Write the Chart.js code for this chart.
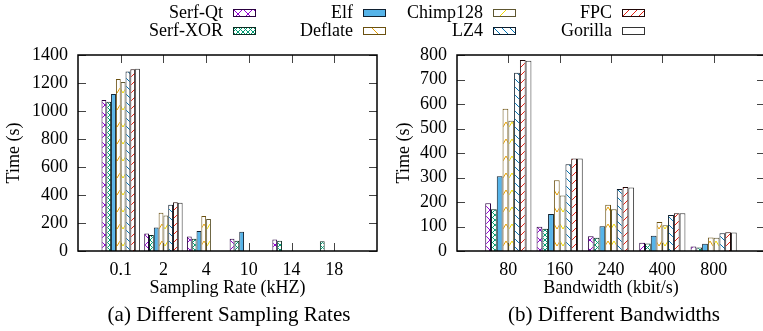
<!DOCTYPE html>
<html>
<head>
<meta charset="utf-8">
<script src="https://cdn.jsdelivr.net/npm/chart.js@4.4.0/dist/chart.umd.min.js"></script>
<style>
  html, body { margin: 0; padding: 0; width: 763px; height: 331px; overflow: hidden; background: #fff; }
  body { position: relative; font-family: "Liberation Serif", "Times New Roman", serif; }
  canvas { position: absolute; top: 0; }
  .cap { position: absolute; top: 302px; font-size: 21px; line-height: 24px; white-space: nowrap; transform: translateX(-50%); color: #000; }
</style>
</head>
<body>
<canvas id="rateChart" width="385" height="331" style="left:0"></canvas>
<canvas id="bandChart" width="393" height="331" style="left:380px"></canvas>
<canvas id="legend" width="763" height="46" style="left:0"></canvas>
<div class="cap" style="left:229px">(a) Different Sampling Rates</div>
<div class="cap" style="left:614px">(b) Different Bandwidths</div>

<script>
const seriesNames = ['Serf-Qt', 'Serf-XOR', 'Elf', 'Deflate', 'Chimp128', 'LZ4', 'FPC', 'Gorilla'];

// (a) sampling rate (kHZ)
const rateLabels = ['0.1', '2', '4', '10', '14', '18'];
const serfQtRate = [1078, 125, 103, 88, 83, null];
const serfXorRate = [1066, 115, 88, 73, 73, 70];
const elfRate = [1122, 167, 143, 138, null, null];
const deflateRate = [1228, 274, 250, null, null, null];
const chimpRate = [1207, 253, 229, null, null, null];
const lz4Rate = [1282, 331, null, null, null, null];
const fpcRate = [1298, 348, null, null, null, null];
const gorillaRate = [1302, 345, null, null, null, null];

// (b) bandwidth (kbit/s)
const bandLabels = ['80', '160', '240', '400', '800'];
const serfQtBand = [195, 99, 60, 34, 18];
const serfXorBand = [170, 91, 54, 31, 14];
const elfBand = [305, 151, 101, 62, 30];
const deflateBand = [581, 289, 189, 118, 55];
const chimpBand = [532, 227, 170, 105, 54];
const lz4Band = [728, 354, 253, 147, 72];
const fpcBand = [780, 378, 261, 154, 77];
const gorillaBand = [777, 378, 259, 154, 76];

const FONT = '"Liberation Serif", "Times New Roman", serif';

// fill style of each series: kind of hatch, line colour, outline colour
const hatchKinds = ['cross', 'dense', 'solid', 'chevron', 'chevron', 'back', 'fwd', 'none'];
const hatchColors = ['#9400D3', '#009E73', '#56B4E9', '#E69F00', '#F0D800', '#0072B2', '#E51E10', '#fff'];
const edgeColors = ['#2a0040', '#0c2a20', '#102030', '#6a5010', '#5e5630', '#0c1c2c', '#200808', '#333'];
const legendKinds = ['cross', 'dense', 'solid', 'back1', 'fwd1', 'back', 'fwd', 'none'];

function makeFill(kind, color) {
  if (kind === 'solid') return color;
  if (kind === 'none') return '#fff';
  const c = document.createElement('canvas');
  let w = 8, h = 8;
  if (kind === 'cross') { w = 10; h = 10; }
  if (kind === 'dense') { w = 5; h = 5; }
  if (kind === 'chevron') { w = 6; h = 17; }
  if (kind === 'back1' || kind === 'fwd1') { w = 22; h = 7; }
  c.width = w; c.height = h;
  const g = c.getContext('2d');
  g.fillStyle = '#fff';
  g.fillRect(0, 0, w, h);
  g.strokeStyle = color;
  g.lineWidth = 1;
  g.beginPath();
  if (kind === 'cross' || kind === 'dense') {
    g.moveTo(0, 0); g.lineTo(w, h);
    g.moveTo(w, 0); g.lineTo(0, h);
  } else if (kind === 'chevron') {
    g.moveTo(0, 3); g.lineTo(w / 2, 8); g.lineTo(w, 3);
  } else if (kind === 'back') {
    g.moveTo(0, 0); g.lineTo(w, h);
    g.moveTo(-w, 0); g.lineTo(w, 2 * h);
    g.moveTo(0, -h); g.lineTo(2 * w, h);
  } else if (kind === 'fwd') {
    g.moveTo(0, h); g.lineTo(w, 0);
    g.moveTo(-w, h); g.lineTo(w, -h);
    g.moveTo(0, 2 * h); g.lineTo(2 * w, 0);
  } else if (kind === 'back1') {
    g.moveTo(8, 0); g.lineTo(15, h);
  } else if (kind === 'fwd1') {
    g.moveTo(7, h); g.lineTo(14, 0);
  }
  g.stroke();
  return g.createPattern(c, 'repeat');
}

function buildDatasets(seriesValues) {
  return seriesValues.map((vals, i) => ({
    label: seriesNames[i],
    data: [null, ...vals, null],
    backgroundColor: makeFill(hatchKinds[i], hatchColors[i]),
    borderColor: edgeColors[i],
    borderWidth: 1,
    borderSkipped: 'bottom',
    categoryPercentage: 0.9,
    barPercentage: 1.0
  }));
}

// inward gnuplot-style ticks behind the bars, frame on top
const frame = {
  id: 'frame',
  beforeDatasetsDraw(chart) {
    const { ctx, chartArea: a, scales: { x, y } } = chart;
    ctx.save();
    ctx.strokeStyle = '#444';
    ctx.lineWidth = 1;
    ctx.beginPath();
    y.ticks.forEach((t, i) => {
      const py = Math.round(y.getPixelForTick(i)) + 0.5;
      ctx.moveTo(a.left, py); ctx.lineTo(a.left + 8, py);
      ctx.moveTo(a.right - 8, py); ctx.lineTo(a.right, py);
    });
    x.ticks.forEach((t, i) => {
      if (!t.label) return;
      const px = Math.round(x.getPixelForTick(i)) + 0.5;
      ctx.moveTo(px, a.top); ctx.lineTo(px, a.top + 8);
      ctx.moveTo(px, a.bottom); ctx.lineTo(px, a.bottom - 8);
    });
    ctx.stroke();
    ctx.restore();
  },
  afterDraw(chart) {
    const { ctx, chartArea: a } = chart;
    ctx.save();
    ctx.strokeStyle = '#000';
    ctx.lineWidth = 1.5;
    ctx.strokeRect(a.left, a.top, a.right - a.left, a.bottom - a.top);
    ctx.restore();
  }
};

function makeChart(id, labels, seriesValues, yMax, yStep, xTitle, yWidth, yTitlePad) {
  const font = { family: FONT, size: 18 };
  return new Chart(document.getElementById(id), {
    type: 'bar',
    data: { labels: ['', ...labels, ''], datasets: buildDatasets(seriesValues) },
    options: {
      responsive: false,
      animation: false,
      layout: { padding: { top: 55, right: 5, left: 0, bottom: 0 } },
      plugins: { legend: { display: false }, tooltip: { enabled: false } },
      scales: {
        x: {
          offset: false,
          grid: { display: false, drawTicks: false },
          border: { display: false },
          ticks: { autoSkip: false, maxRotation: 0, padding: 8, color: '#000', font },
          title: { display: true, text: xTitle, color: '#000', font, padding: { top: 0, bottom: 32 } },
          afterFit(s) { s.height = 80; }
        },
        y: {
          min: 0,
          max: yMax,
          grid: { display: false, drawTicks: false },
          border: { display: false },
          ticks: { stepSize: yStep, autoSkip: false, padding: 10, color: '#000', font, callback: (v) => String(v) },
          title: { display: true, text: 'Time (s)', color: '#000', font, padding: { top: yTitlePad, bottom: 0 } },
          afterFit(s) { s.width = yWidth; }
        }
      }
    },
    plugins: [frame]
  });
}

makeChart('rateChart', rateLabels,
  [serfQtRate, serfXorRate, elfRate, deflateRate, chimpRate, lz4Rate, fpcRate, gorillaRate],
  1400, 200, 'Sampling Rate (kHZ)', 78, 3);

makeChart('bandChart', bandLabels,
  [serfQtBand, serfXorBand, elfBand, deflateBand, chimpBand, lz4Band, fpcBand, gorillaBand],
  800, 100, 'Bandwidth (kbit/s)', 77, 13);

// shared key across the top: 4 columns, 2 rows, column-major
(function drawLegend() {
  const g = document.getElementById('legend').getContext('2d');
  const colX = [233, 363, 493, 622];
  const rowY = [18, 36];
  g.font = '18px ' + FONT;
  g.textAlign = 'right';
  g.textBaseline = 'alphabetic';
  seriesNames.forEach((name, i) => {
    const col = Math.floor(i / 2), row = i % 2;
    const x = colX[col], y = rowY[row];
    g.fillStyle = '#000';
    g.fillText(name, x - 10, y);
    const sy = y - 9;
    g.fillStyle = makeFill(legendKinds[i], hatchColors[i]);
    g.save();
    g.translate(x, sy);
    g.fillRect(0, 0, 22, 7);
    g.restore();
    g.strokeStyle = edgeColors[i];
    g.lineWidth = 1;
    g.strokeRect(x + 0.5, sy + 0.5, 22, 7);
  });
})();
</script>
</body>
</html>
